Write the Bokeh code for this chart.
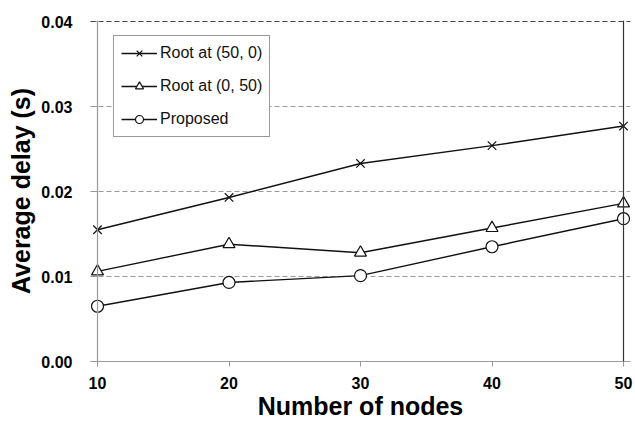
from bokeh.plotting import figure
from bokeh.models import (Range1d, FixedTicker, NumeralTickFormatter, Span, Legend)
from bokeh.embed import file_html
from bokeh.resources import INLINE

nodes = [10, 20, 30, 40, 50]
root_50_0 = [0.0155, 0.0193, 0.0233, 0.0254, 0.0277]
root_0_50 = [0.0106, 0.0138, 0.0128, 0.0157, 0.0186]
proposed = [0.0065, 0.0093, 0.0101, 0.0135, 0.0168]
x_ticks = [10, 20, 30, 40, 50]
y_ticks = [0.0, 0.01, 0.02, 0.03, 0.04]
grid_ticks = [0.01, 0.02, 0.03]

FONT = "Liberation Sans"

p = figure(width=635, height=424, output_backend="svg", toolbar_location=None,
           x_range=Range1d(9.4677, 50.532), y_range=Range1d(0.0, 0.040118),
           min_border_left=90, min_border_right=5, min_border_top=20,
           min_border_bottom=63)
p.outline_line_color = None
p.background_fill_color = "white"
p.border_fill_color = "white"

# axes
p.xaxis.ticker = FixedTicker(ticks=x_ticks)
p.yaxis.ticker = FixedTicker(ticks=y_ticks)
p.yaxis.formatter = NumeralTickFormatter(format="0.00")
p.xaxis.minor_tick_line_color = None
p.yaxis.minor_tick_line_color = None
p.xaxis.axis_line_color = "#9a9a9a"
p.xaxis.major_tick_line_color = "#9a9a9a"
p.xaxis.major_tick_in = 0
p.xaxis.major_tick_out = 5
p.yaxis.axis_line_color = None
p.yaxis.major_tick_line_color = "#9a9a9a"
p.yaxis.major_tick_in = 7
p.yaxis.major_tick_out = 0
for ax in (p.xaxis, p.yaxis):
    ax.major_label_text_font = FONT
    ax.major_label_text_font_style = "bold"
    ax.major_label_text_font_size = "16px"
    ax.major_label_text_color = "black"
    ax.axis_label_text_font = FONT
    ax.axis_label_text_font_style = "bold"
    ax.axis_label_text_font_size = "25px"
    ax.axis_label_text_color = "black"
p.xaxis.major_label_standoff = 10
p.yaxis.major_label_standoff = 18
p.xaxis.axis_label = "Number of nodes"
p.yaxis.axis_label = "Average delay (s)"
p.xaxis.axis_label_standoff = 0
p.yaxis.axis_label_standoff = 3

# grid
p.xgrid.grid_line_color = None
p.ygrid.ticker = FixedTicker(ticks=grid_ticks)
p.ygrid.grid_line_color = "#9a9a9a"
p.ygrid.grid_line_dash = "5 3"
p.ygrid.grid_line_width = 1

p.add_layout(Span(location=0.04, dimension="width", line_color="#444444",
                  line_dash="5 3", line_width=1.2))
p.add_layout(Span(location=10, dimension="height", line_color="#9a9a9a", line_width=1.2))
p.add_layout(Span(location=50, dimension="height", line_color="#333333", line_width=1.2))

lc = "#111111"
r1 = p.line(nodes, root_50_0, line_color=lc, line_width=1.4)
s1 = p.scatter(nodes, root_50_0, marker="x", size=12, line_color=lc, line_width=1.2)
r2 = p.line(nodes, root_0_50, line_color=lc, line_width=1.4)
s2 = p.scatter(nodes, root_0_50, marker="triangle", size=12, line_color=lc,
               fill_color="white", line_width=1.2)
r3 = p.line(nodes, proposed, line_color=lc, line_width=1.4)
s3 = p.scatter(nodes, proposed, marker="circle", size=12, line_color=lc,
               fill_color="white", line_width=1.2)

legend = Legend(items=[("Root at (50, 0)", [r1, s1]),
                       ("Root at (0, 50)", [r2, s2]),
                       ("Proposed", [r3, s3])],
                location=(23, 224))
legend.label_text_font = FONT
legend.label_text_font_size = "16px"
legend.label_text_color = "#111111"
legend.border_line_color = "#333333"
legend.border_line_width = 1.2
legend.background_fill_color = "white"
legend.background_fill_alpha = 1
legend.padding = 7
legend.spacing = 13
legend.glyph_width = 36
legend.glyph_height = 20
legend.label_height = 20
legend.label_standoff = 3
legend.margin = 0
p.add_layout(legend, "center")

open("out.html", "w").write(file_html(p, INLINE))
